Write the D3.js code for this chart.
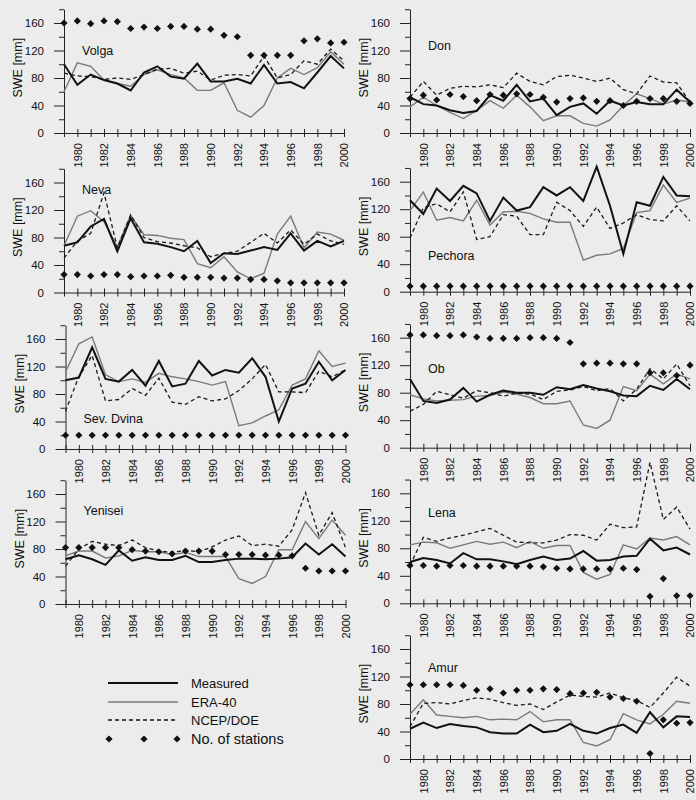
<!DOCTYPE html>
<html>
<head>
<meta charset="utf-8">
<script src="https://cdn.jsdelivr.net/npm/d3@7"></script>
<style>
  body { margin: 0; background: #ececec; }
  text { font-family: "Liberation Sans", Arial, sans-serif; fill: #111; }
</style>
</head>
<body>
<script>
// years on the x axis
var years = d3.range(1979, 2001);

// series per basin: Measured, ERA-40, NCEP/DOE, No. of stations
var volgaMeasured = [100, 70, 85, 77, 72, 62, 88, 97, 82, 79, 101, 75, 75, 79, 72, 99, 72, 74, 65, 88, 112, 94];
var volgaEra      = [60, 102, 97, 77, 72, 68, 85, 92, 85, 80, 62, 62, 73, 33, 23, 40, 80, 94, 85, 95, 118, 100];
var volgaNcep     = [87, 83, 82, 78, 80, 78, 85, 93, 94, 87, 90, 77, 84, 85, 83, 112, 80, 85, 105, 100, 122, 105];
var volgaStations = [160, 163, 159, 163, 162, 152, 154, 152, 155, 155, 151, 151, 142, 140, 113, 113, 113, 113, 134, 137, 131, 132];

var donMeasured = [52, 42, 40, 33, 29, 32, 55, 47, 70, 46, 50, 26, 38, 43, 28, 47, 40, 45, 42, 42, 63, 45];
var donEra      = [38, 52, 40, 30, 21, 33, 47, 36, 55, 38, 18, 25, 25, 14, 10, 19, 40, 57, 50, 42, 48, 45];
var donNcep     = [52, 75, 55, 65, 68, 67, 70, 66, 87, 75, 70, 82, 84, 80, 75, 80, 63, 57, 83, 74, 73, 45];
var donStations = [50, 55, 48, 56, 53, 47, 56, 55, 57, 56, 52, 45, 50, 51, 46, 47, 40, 46, 50, 50, 46, 43];

var nevaMeasured = [68, 73, 96, 107, 60, 108, 73, 71, 66, 60, 75, 43, 57, 56, 61, 66, 62, 86, 61, 75, 67, 75];
var nevaEra      = [68, 111, 119, 103, 66, 112, 84, 83, 79, 77, 42, 36, 52, 30, 20, 28, 85, 111, 65, 88, 85, 76];
var nevaNcep     = [50, 75, 86, 145, 65, 113, 80, 74, 72, 68, 65, 52, 57, 60, 73, 86, 72, 91, 70, 85, 75, 70];
var nevaStations = [26, 26, 24, 26, 26, 23, 24, 24, 25, 22, 22, 22, 21, 21, 19, 19, 17, 14, 14, 14, 14, 14];

var pechoraMeasured = [133, 113, 150, 132, 154, 143, 103, 137, 118, 123, 152, 140, 152, 132, 182, 125, 55, 130, 125, 167, 140, 139];
var pechoraEra      = [118, 145, 104, 108, 103, 133, 97, 116, 117, 114, 106, 101, 101, 46, 53, 55, 63, 115, 118, 155, 130, 136];
var pechoraNcep     = [78, 122, 128, 116, 145, 76, 80, 112, 110, 83, 83, 130, 118, 95, 123, 92, 100, 112, 105, 103, 125, 103];
var pechoraStations = [8, 8, 8, 8, 8, 8, 8, 8, 8, 8, 8, 8, 8, 8, 8, 8, 8, 8, 8, 8, 8, 8];

var dvinaMeasured = [100, 104, 148, 102, 98, 115, 92, 128, 91, 95, 128, 107, 115, 111, 132, 105, 40, 88, 95, 127, 100, 115];
var dvinaEra      = [112, 153, 163, 108, 98, 102, 97, 110, 105, 102, 98, 93, 98, 34, 38, 48, 57, 93, 102, 143, 120, 125];
var dvinaNcep     = [55, 105, 136, 70, 72, 88, 78, 103, 68, 65, 76, 70, 73, 85, 102, 123, 83, 83, 82, 113, 105, 115];
var dvinaStations = [20, 20, 20, 20, 20, 20, 20, 20, 20, 20, 20, 20, 20, 20, 20, 20, 20, 20, 20, 20, 20, 20];

var obMeasured = [100, 68, 65, 70, 87, 67, 77, 83, 80, 80, 77, 88, 85, 91, 86, 82, 76, 75, 90, 84, 100, 85];
var obEra      = [77, 71, 68, 69, 70, 75, 76, 81, 78, 73, 64, 64, 68, 33, 28, 40, 89, 83, 107, 93, 107, 100];
var obNcep     = [53, 63, 82, 77, 72, 83, 80, 75, 79, 78, 70, 82, 84, 89, 83, 86, 68, 85, 115, 100, 122, 90];
var obStations = [164, 164, 163, 163, 164, 161, 159, 159, 159, 160, 160, 159, 153, 122, 123, 123, 122, 122, 109, 109, 105, 120];

var yeniseiMeasured = [65, 71, 65, 57, 78, 63, 68, 64, 64, 70, 61, 61, 64, 66, 66, 65, 66, 68, 88, 72, 87, 69];
var yeniseiEra      = [70, 77, 77, 67, 70, 78, 76, 76, 72, 75, 69, 69, 69, 37, 30, 40, 79, 79, 120, 95, 122, 100];
var yeniseiNcep     = [55, 80, 91, 87, 85, 93, 82, 77, 75, 78, 76, 83, 93, 99, 85, 87, 84, 108, 162, 100, 133, 82];
var yeniseiStations = [82, 82, 82, 82, 82, 79, 77, 76, 73, 77, 77, 77, 72, 72, 72, 71, 71, 70, 52, 48, 48, 48];

var lenaMeasured = [60, 66, 63, 58, 73, 64, 64, 61, 57, 63, 68, 63, 65, 76, 62, 63, 68, 69, 94, 77, 81, 71];
var lenaEra      = [85, 89, 88, 80, 85, 90, 86, 89, 81, 90, 80, 84, 84, 45, 35, 42, 85, 79, 95, 92, 97, 85];
var lenaNcep     = [55, 96, 90, 95, 99, 104, 109, 99, 89, 88, 88, 92, 100, 99, 92, 115, 110, 111, 205, 122, 140, 108];
var lenaStations = [55, 55, 54, 55, 55, 54, 54, 54, 54, 54, 53, 51, 50, 50, 50, 50, 51, 49, 10, 36, 11, 11];

var amurMeasured = [44, 53, 45, 51, 48, 46, 39, 37, 37, 50, 39, 41, 51, 41, 37, 45, 50, 38, 68, 46, 62, 61];
var amurEra      = [65, 86, 64, 62, 60, 62, 57, 58, 57, 69, 54, 57, 57, 24, 19, 28, 66, 57, 51, 65, 84, 81];
var amurNcep     = [47, 81, 82, 80, 85, 89, 87, 82, 78, 80, 72, 83, 93, 91, 90, 96, 89, 85, 75, 96, 119, 106];
var amurStations = [108, 108, 108, 108, 107, 100, 102, 96, 100, 100, 102, 101, 95, 96, 97, 90, 88, 84, 8, 57, 52, 53];

var legendLabels = ["Measured", "ERA-40", "NCEP/DOE", "No. of stations"];

// panel layout (pixel origin of each small chart)
var panels = [
  {name: "Volga",      left: 64,   base: 133,   labelAt: 113, m: volgaMeasured,   e: volgaEra,   n: volgaNcep,   s: volgaStations},
  {name: "Don",        left: 410,  base: 133,   labelAt: 121, m: donMeasured,     e: donEra,     n: donNcep,     s: donStations},
  {name: "Neva",       left: 64,   base: 292.5, labelAt: 144, m: nevaMeasured,    e: nevaEra,    n: nevaNcep,    s: nevaStations},
  {name: "Pechora",    left: 410,  base: 291.7, labelAt: 46,  m: pechoraMeasured, e: pechoraEra, n: pechoraNcep, s: pechoraStations},
  {name: "Sev. Dvina", left: 65.5, base: 449,   labelAt: 38,  m: dvinaMeasured,   e: dvinaEra,   n: dvinaNcep,   s: dvinaStations},
  {name: "Ob",         left: 410,  base: 447.7, labelAt: 109, m: obMeasured,      e: obEra,      n: obNcep,      s: obStations},
  {name: "Yenisei",    left: 65.5, base: 604,   labelAt: 129, m: yeniseiMeasured, e: yeniseiEra, n: yeniseiNcep, s: yeniseiStations},
  {name: "Lena",       left: 410,  base: 603.3, labelAt: 125, m: lenaMeasured,    e: lenaEra,    n: lenaNcep,    s: lenaStations},
  {name: "Amur",       left: 410,  base: 759,   labelAt: 126, m: amurMeasured,    e: amurEra,    n: amurNcep,    s: amurStations}
];

var plotWidth = 280,
    pxPerMm = 0.6875;

var svg = d3.select("body").append("svg")
    .attr("width", 696)
    .attr("height", 800);

svg.append("rect")
    .attr("width", 696)
    .attr("height", 800)
    .attr("fill", "#ececec");

var diamond = d3.symbol().type(d3.symbolSquare).size(26);

function drawPanel(p) {
  var x = d3.scaleLinear().domain([1979, 2000]).range([p.left, p.left + plotWidth]);
  var y = d3.scaleLinear().domain([0, 180]).range([p.base, p.base - 180 * pxPerMm]);
  var g = svg.append("g");

  // y axis
  var yAxis = g.append("g")
      .attr("transform", "translate(" + p.left + ",0)")
      .call(d3.axisLeft(y)
        .tickValues(d3.range(0, 181, 20))
        .tickSizeOuter(0)
        .tickFormat(function(d) { return (d % 40 === 0 && d < 180) ? d : ""; }));
  yAxis.selectAll(".tick line")
      .attr("x2", function(d) { return (d % 40 === 0 && d < 180) ? -10 : -5; });
  yAxis.selectAll(".tick text")
      .attr("x", -20)
      .style("font-family", "'Liberation Sans', Arial, sans-serif")
      .style("font-size", "11.5px");

  // x axis, ticks cross the line
  var xAxis = g.append("g")
      .attr("transform", "translate(0," + p.base + ")")
      .call(d3.axisBottom(x)
        .tickValues(years)
        .tickSizeOuter(0)
        .tickFormat(function(d) { return d % 2 === 0 ? d : ""; }));
  xAxis.selectAll(".tick line")
      .attr("y1", -4)
      .attr("y2", 4);
  xAxis.selectAll(".tick text")
      .attr("transform", "rotate(-90)")
      .attr("x", -10)
      .attr("y", 0)
      .attr("dy", "0.35em")
      .style("text-anchor", "end")
      .style("font-family", "'Liberation Sans', Arial, sans-serif")
      .style("font-size", "11px");

  g.selectAll(".domain, .tick line").attr("stroke", "#222");

  // y title
  g.append("text")
      .attr("transform", "translate(" + (p.left - 46) + "," + y(95) + ") rotate(-90)")
      .attr("dy", "0.35em")
      .style("text-anchor", "middle")
      .style("font-size", "12.5px")
      .text("SWE [mm]");

  // basin name
  g.append("text")
      .attr("x", x(1979) + 18)
      .attr("y", y(p.labelAt))
      .style("font-size", "12.5px")
      .text(p.name);

  var line = d3.line()
      .x(function(d, i) { return x(years[i]); })
      .y(function(d) { return y(d); });

  g.append("path").datum(p.e)
      .attr("fill", "none").attr("stroke", "#7a7a7a").attr("stroke-width", 1.4)
      .attr("d", line);
  g.append("path").datum(p.n)
      .attr("fill", "none").attr("stroke", "#1a1a1a").attr("stroke-width", 1.3)
      .attr("stroke-dasharray", "4,3")
      .attr("d", line);
  g.append("path").datum(p.m)
      .attr("fill", "none").attr("stroke", "#111").attr("stroke-width", 2)
      .attr("d", line);

  g.selectAll(".st")
      .data(p.s)
    .enter().append("path")
      .attr("d", diamond)
      .attr("fill", "#111")
      .attr("transform", function(d, i) {
        return "translate(" + x(years[i]) + "," + y(d) + ") rotate(45)";
      });
}

panels.forEach(drawPanel);

// legend
var legend = svg.append("g");
var legendRows = [683, 702, 720, 739];
legendLabels.forEach(function(label, i) {
  var ly = legendRows[i];
  if (i < 3) {
    legend.append("line")
        .attr("x1", 108).attr("x2", 178)
        .attr("y1", ly).attr("y2", ly)
        .attr("stroke", i === 1 ? "#7a7a7a" : "#111")
        .attr("stroke-width", i === 0 ? 2 : 1.3)
        .attr("stroke-dasharray", i === 2 ? "4,3" : null);
  } else {
    [109, 144, 177].forEach(function(dx) {
      legend.append("path")
          .attr("d", diamond)
          .attr("fill", "#111")
          .attr("transform", "translate(" + dx + "," + ly + ") rotate(45)");
    });
  }
  legend.append("text")
      .attr("x", 191)
      .attr("y", ly)
      .attr("dy", "0.35em")
      .style("font-size", i === 3 ? "14.5px" : "13px")
      .text(label);
});
</script>
</body>
</html>
